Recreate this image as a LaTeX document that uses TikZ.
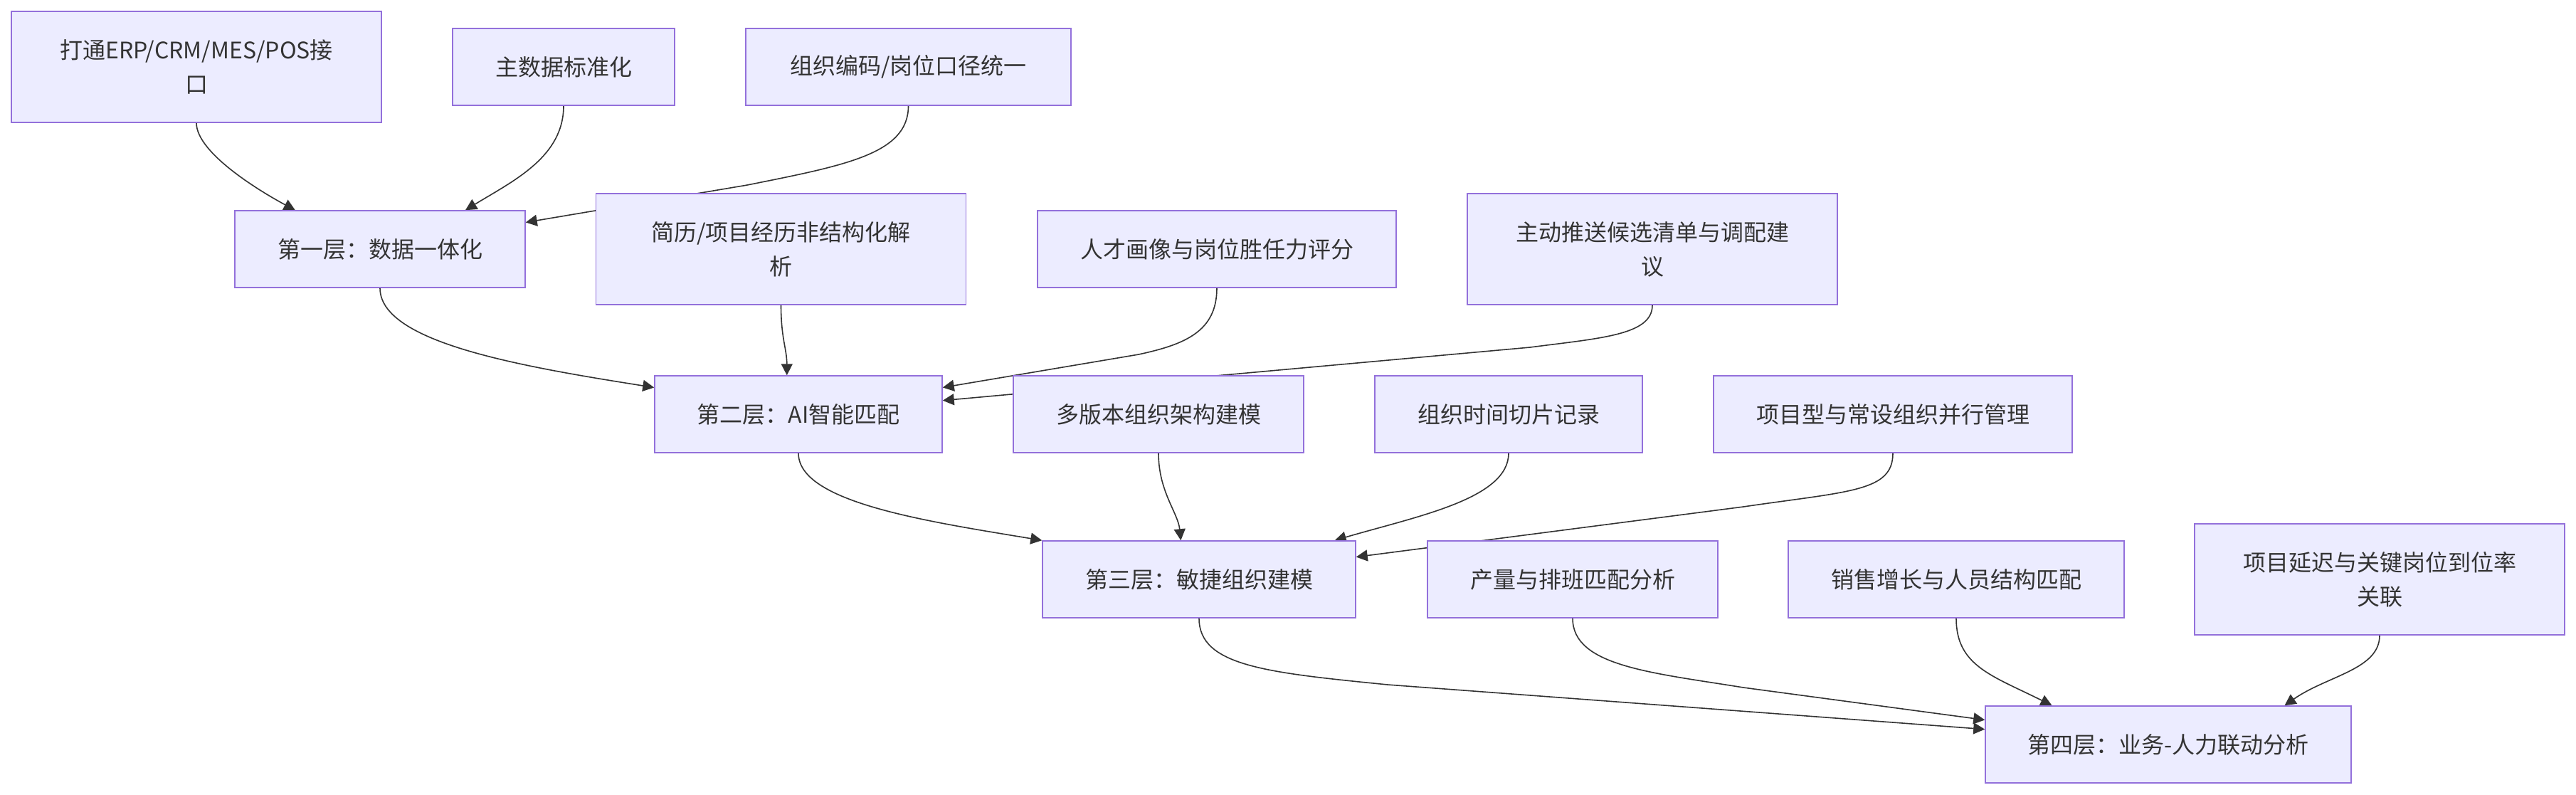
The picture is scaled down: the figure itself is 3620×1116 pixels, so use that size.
\documentclass[tikz,border=0pt]{standalone}
\usepackage{fontspec}
\newfontfamily\cjk{Noto Sans CJK SC}
\usetikzlibrary{arrows.meta,calc}
\definecolor{nodefill}{HTML}{ECECFF}
\definecolor{nodeline}{HTML}{9370DB}
\definecolor{ink}{HTML}{333333}
\pgfdeclarelayer{bg}
\pgfdeclarelayer{edges}
\pgfsetlayers{bg,edges,main}
\begin{document}
\begin{tikzpicture}[x=0.5pt,y=-0.5pt,
  box/.style={draw=nodeline, fill=nodefill, line width=0.75pt, inner sep=0pt,
    text=ink, align=center, font=\cjk\fontsize{16pt}{24pt}\selectfont},
  link/.style={draw=ink, line width=0.8pt, -{Triangle[length=8pt,width=8pt]}}]
\useasboundingbox (0,0) rectangle (3620,1116);
\begin{pgfonlayer}{bg}
\fill[white] (0,0) rectangle (3620,1116);
\end{pgfonlayer}

% row 1
\node[box, minimum width=260pt, minimum height=78pt] (A) at (276,94) {打通ERP/CRM/MES/POS接\\口};
\node[box, minimum width=156pt, minimum height=54pt] (B) at (792,94) {主数据标准化};
\node[box, minimum width=228.5pt, minimum height=54pt] (C) at (1276.5,94) {组织编码/岗位口径统一};
% row 2
\node[box, minimum width=204pt, minimum height=54pt] (L1) at (534,350) {第一层：数据一体化};
\node[box, minimum width=260pt, minimum height=78pt] (D) at (1097.5,350) {简历/项目经历非结构化解\\析};
\node[box, minimum width=252pt, minimum height=54pt] (E) at (1710,350) {人才画像与岗位胜任力评分};
\node[box, minimum width=260pt, minimum height=78pt] (F) at (2322,350) {主动推送候选清单与调配建\\议};
% row 3
\node[box, minimum width=202pt, minimum height=54pt] (L2) at (1122,582) {第二层：AI智能匹配};
\node[box, minimum width=204pt, minimum height=54pt] (G) at (1628,582) {多版本组织架构建模};
\node[box, minimum width=188pt, minimum height=54pt] (H) at (2120,582) {组织时间切片记录};
\node[box, minimum width=252pt, minimum height=54pt] (I) at (2660,582) {项目型与常设组织并行管理};
% row 4
\node[box, minimum width=220pt, minimum height=54pt] (L3) at (1685,814) {第三层：敏捷组织建模};
\node[box, minimum width=204pt, minimum height=54pt] (J) at (2210,814) {产量与排班匹配分析};
\node[box, minimum width=236pt, minimum height=54pt] (K) at (2749,814) {销售增长与人员结构匹配};
\node[box, minimum width=260pt, minimum height=78pt] (M) at (3344,814) {项目延迟与关键岗位到位率\\关联};
% row 5
\node[box, minimum width=257pt, minimum height=54pt] (L4) at (3047,1046) {第四层：业务-人力联动分析};

\begin{pgfonlayer}{edges}
\draw[link] (A.south) .. controls +(0,43) and +(-45,-24) .. ($(L1.north west)!0.209!(L1.north east)$);
\draw[link] (B.south) .. controls +(0,72) and +(67,-41) .. ($(L1.north west)!0.793!(L1.north east)$);
\draw[link] (C.south) .. controls +(0,67) and +(140,-28) .. (1050,260) -- ($(L1.north east)!0.157!(L1.south east)$);

\draw[link] (L1.south) .. controls +(0,76) and +(-190,-30) .. ($(L2.north west)!0.157!(L2.south west)$);
\draw[link] (D.south) .. controls +(0,47) and +(0,-37) .. ($(L2.north west)!0.46!(L2.north east)$);
\draw[link] (E.south) .. controls +(0,61) and +(65,-14) .. (1600,498) -- ($(L2.north east)!0.157!(L2.south east)$);
\draw[link] (F.south) .. controls +(0,42) and +(100,-13) .. (2150,488) -- ($(L2.north east)!0.324!(L2.south east)$);

\draw[link] (L2.south) .. controls +(0,69) and +(-163,-27) .. (L3.north west);
\draw[link] (G.south) .. controls +(0,54) and +(-4,-39) .. ($(L3.north west)!0.442!(L3.north east)$);
\draw[link] (H.south) .. controls +(0,64) and +(116,-34) .. ($(L3.north west)!0.932!(L3.north east)$);
\draw[link] (I.south) .. controls +(0,54) and +(150,-22) .. (2450,712) -- ($(L3.north east)!0.213!(L3.south east)$);

\draw[link] (L3.south) .. controls +(0,67) and +(-170,-17) .. (1950,962) -- ($(L4.north west)!0.305!(L4.south west)$);
\draw[link] (J.south) .. controls +(0,67) and +(-130,-21) .. (2450,966) -- ($(L4.north west)!0.185!(L4.south west)$);
\draw[link] (K.south) .. controls +(0,67) and +(-84,-42) .. ($(L4.north west)!0.183!(L4.north east)$);
\draw[link] (M.south) .. controls +(0,48) and +(60,-42) .. ($(L4.north west)!0.817!(L4.north east)$);
\end{pgfonlayer}
\end{tikzpicture}
\end{document}
